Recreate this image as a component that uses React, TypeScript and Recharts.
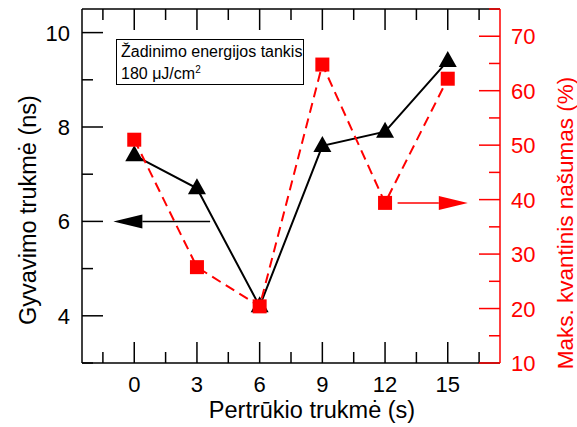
import { ComposedChart, Line, XAxis, YAxis, ReferenceLine } from "recharts";

const FONT = "'Liberation Sans', Arial, sans-serif";
const RED = "#ff0000";

// Pertrūkio trukmė (s)
const breakTimes = [0, 3, 6, 9, 12, 15];
// Gyvavimo trukmė (ns)
const lifetimes = [7.4, 6.7, 4.2, 7.6, 7.9, 9.4];
// Maks. kvantinis našumas (%)
const quantumYield = [51, 27.6, 20.4, 64.8, 39.4, 62.2];

const xMajor = [0, 3, 6, 9, 12, 15];
const xMinor = [-1.5, 1.5, 4.5, 7.5, 10.5, 13.5, 16.5];
const leftMajor = [4, 6, 8, 10];
const leftMinor = [3, 5, 7, 9];
const rightMajor = [10, 20, 30, 40, 50, 60, 70];
const rightMinor = [15, 25, 35, 45, 55, 65, 75];

// arrows pointing at the axis each series belongs to
const blackArrow = [
  { x: 3.63, y: 6 },
  { x: -1.0, y: 6 },
];
const redArrow = [
  { x: 12.6, y: 39.4 },
  { x: 15.96, y: 39.4 },
];

const data = breakTimes.map((t, i) => ({ t, life: lifetimes[i], qy: quantumYield[i] }));

const sortNum = (a: number[]) => [...a].sort((p, q) => p - q);

function makeTick(side: "left" | "right" | "bottom" | "top", major: number[], color: string) {
  return (props: any) => {
    const { x, y, payload } = props;
    const isMajor = major.includes(payload.value);
    const len = isMajor ? 21 : 11;
    let line;
    let label = null;
    if (side === "left") {
      line = <line x1={x} y1={y} x2={x + len} y2={y} stroke={color} strokeWidth={1.5} />;
      if (isMajor)
        label = (
          <text x={x - 12} y={y + 8} textAnchor="end" fill={color} fontSize={22} fontFamily={FONT}>
            {payload.value}
          </text>
        );
    } else if (side === "right") {
      line = <line x1={x} y1={y} x2={x - len} y2={y} stroke={color} strokeWidth={1.5} />;
      if (isMajor)
        label = (
          <text x={x + 11} y={y + 8} textAnchor="start" fill={color} fontSize={22} fontFamily={FONT}>
            {payload.value}
          </text>
        );
    } else if (side === "bottom") {
      line = <line x1={x} y1={y} x2={x} y2={y - len} stroke={color} strokeWidth={1.5} />;
      if (isMajor)
        label = (
          <text x={x} y={y + 29} textAnchor="middle" fill={color} fontSize={22} fontFamily={FONT}>
            {payload.value}
          </text>
        );
    } else {
      line = <line x1={x} y1={y} x2={x} y2={y + len} stroke={color} strokeWidth={1.5} />;
    }
    return (
      <g>
        {line}
        {label}
      </g>
    );
  };
}

const Triangle = (props: any) => {
  const { cx, cy, index } = props;
  if (cx == null || cy == null) return <g key={`tri-${index}`} />;
  return (
    <polygon
      key={`tri-${index}`}
      points={`${cx},${cy - 10} ${cx - 9},${cy + 6} ${cx + 9},${cy + 6}`}
      fill="#000"
    />
  );
};

const Square = (props: any) => {
  const { cx, cy, index } = props;
  if (cx == null || cy == null) return <g key={`sq-${index}`} />;
  return <rect key={`sq-${index}`} x={cx - 7} y={cy - 7} width={14} height={14} fill={RED} />;
};

const arrowShape = (color: string) => (props: any) => {
  const { x1, y1, x2, y2 } = props;
  const dir = Math.sign(x2 - x1) || 1;
  const base = x2 - dir * 29;
  return (
    <g>
      <line x1={x1} y1={y1} x2={base} y2={y2} stroke={color} strokeWidth={1.5} />
      <polygon points={`${x2},${y2} ${base},${y2 - 7} ${base},${y2 + 7}`} fill={color} />
    </g>
  );
};

export default function App() {
  return (
    <div
      style={{
        position: "absolute",
        left: 0,
        top: 0,
        width: 577,
        height: 427,
        background: "#fff",
        fontFamily: FONT,
      }}
    >
      <ComposedChart width={577} height={427} data={data} margin={{ top: 0, right: 0, bottom: 0, left: 0 }}>
        <XAxis
          xAxisId="top"
          orientation="top"
          type="number"
          dataKey="t"
          domain={[-2.5, 17.5]}
          ticks={sortNum([...xMajor, ...xMinor])}
          interval={0}
          height={9}
          tickSize={0}
          tickMargin={0}
          tickLine={false}
          axisLine={{ stroke: "#000", strokeWidth: 1.5 }}
          tick={makeTick("top", xMajor, "#000")}
          allowDataOverflow
        />
        <XAxis
          xAxisId="bottom"
          orientation="bottom"
          type="number"
          dataKey="t"
          domain={[-2.5, 17.5]}
          ticks={sortNum([...xMajor, ...xMinor])}
          interval={0}
          height={64}
          tickSize={0}
          tickMargin={0}
          tickLine={false}
          axisLine={{ stroke: "#000", strokeWidth: 1.5 }}
          tick={makeTick("bottom", xMajor, "#000")}
          allowDataOverflow
          label={{
            content: () => (
              <text x={312} y={418} textAnchor="middle" fontSize={23.5} fontFamily={FONT} fill="#000">
                Pertrūkio trukmė (s)
              </text>
            ),
          }}
        />
        <YAxis
          yAxisId="left"
          orientation="left"
          type="number"
          domain={[3, 10.5]}
          ticks={sortNum([...leftMajor, ...leftMinor])}
          interval={0}
          width={82}
          tickSize={0}
          tickMargin={0}
          tickLine={false}
          axisLine={{ stroke: "#000", strokeWidth: 1.5 }}
          tick={makeTick("left", leftMajor, "#000")}
          allowDataOverflow
          label={{
            content: () => (
              <text
                x={28}
                y={210}
                textAnchor="middle"
                dominantBaseline="central"
                transform="rotate(-90 28 210)"
                fontSize={23.5}
                fontFamily={FONT}
                fill="#000"
              >
                Gyvavimo trukmė (ns)
              </text>
            ),
          }}
        />
        <YAxis
          yAxisId="right"
          orientation="right"
          type="number"
          domain={[10, 75]}
          ticks={sortNum([...rightMajor, ...rightMinor])}
          interval={0}
          width={77}
          tickSize={0}
          tickMargin={0}
          tickLine={false}
          axisLine={{ stroke: RED, strokeWidth: 1.5 }}
          tick={makeTick("right", rightMajor, RED)}
          allowDataOverflow
          label={{
            content: () => (
              <text
                x={565}
                y={223}
                textAnchor="middle"
                dominantBaseline="central"
                transform="rotate(-90 565 223)"
                fontSize={22.5}
                fontFamily={FONT}
                fill={RED}
              >
                Maks. kvantinis našumas (%)
              </text>
            ),
          }}
        />
        <ReferenceLine
          xAxisId="bottom"
          yAxisId="left"
          segment={blackArrow}
          shape={arrowShape("#000")}
          ifOverflow="visible"
        />
        <ReferenceLine
          xAxisId="bottom"
          yAxisId="right"
          segment={redArrow}
          shape={arrowShape(RED)}
          ifOverflow="visible"
        />
        <Line
          xAxisId="bottom"
          yAxisId="left"
          type="linear"
          dataKey="life"
          stroke="#000"
          strokeWidth={2}
          dot={Triangle}
          activeDot={false}
          isAnimationActive={false}
        />
        <Line
          xAxisId="bottom"
          yAxisId="right"
          type="linear"
          dataKey="qy"
          stroke={RED}
          strokeWidth={2}
          strokeDasharray="10 6"
          dot={Square}
          activeDot={false}
          isAnimationActive={false}
        />
      </ComposedChart>
      <div
        style={{
          position: "absolute",
          left: 116,
          top: 39,
          width: 188,
          height: 46,
          border: "1.5px solid #000",
          fontSize: 16,
          lineHeight: "22px",
          paddingLeft: 4,
          paddingTop: 1,
          boxSizing: "border-box",
          color: "#000",
        }}
      >
        <div style={{ whiteSpace: "nowrap" }}>Žadinimo energijos tankis</div>
        <div style={{ whiteSpace: "nowrap" }}>
          180 μJ/cm<sup style={{ fontSize: 10, verticalAlign: "6px", lineHeight: 0 }}>2</sup>
        </div>
      </div>
    </div>
  );
}
